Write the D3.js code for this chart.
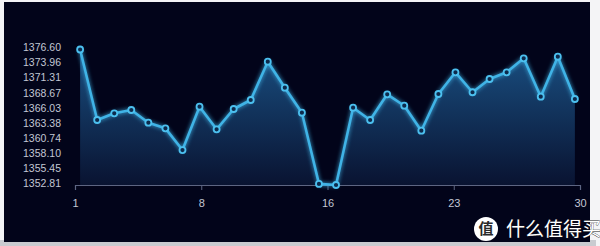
<!DOCTYPE html>
<html>
<head>
<meta charset="utf-8">
<script src="https://cdn.jsdelivr.net/npm/d3@7"></script>
<style>
  html, body { margin: 0; padding: 0; background: #f4f4f6; }
  svg { display: block; }
</style>
</head>
<body>
<svg id="chart" width="600" height="246"></svg>
<script>
// données
const days = d3.range(1, 31);
const values = [
  1376.60, 1364.22, 1365.40, 1365.98, 1363.75, 1362.76, 1358.95, 1366.56, 1362.59, 1366.15,
  1367.73, 1374.46, 1369.89, 1365.50, 1353.00, 1352.81, 1366.38, 1364.22, 1368.73, 1366.73,
  1362.34, 1368.79, 1372.60, 1369.09, 1371.42, 1372.60, 1375.05, 1368.31, 1375.34, 1367.91
];
const yTickLabels = ["1376.60", "1373.96", "1371.31", "1368.67", "1366.03", "1363.38", "1360.74", "1358.10", "1355.45", "1352.81"];
const xTickLabels = ["1", "8", "16", "23", "30"];

const svg = d3.select("#chart");

// fond du panneau
svg.append("rect").attr("x", 0).attr("y", 240).attr("width", 596).attr("height", 6).attr("fill", "#c9cbd0");
svg.append("rect").attr("x", 4).attr("y", 2).attr("width", 586).attr("height", 240).attr("fill", "#02041a");

const yMin = 1352.81, yMax = 1376.60;
const x = d3.scaleLinear().domain([0.7, 30.3]).range([75, 580]);
const y = d3.scaleLinear().domain([yMin, yMax]).range([185, 49.5]);

const defs = svg.append("defs");
const grad = defs.append("linearGradient").attr("id", "areaGrad")
  .attr("x1", 0).attr("x2", 0)
  .attr("gradientUnits", "userSpaceOnUse")
  .attr("y1", y(yMax)).attr("y2", y(yMin));
grad.append("stop").attr("offset", "0%").attr("stop-color", "#1b5488").attr("stop-opacity", 0.95);
grad.append("stop").attr("offset", "100%").attr("stop-color", "#0a1534").attr("stop-opacity", 0.9);

const glow = defs.append("filter").attr("id", "glow")
  .attr("x", "-10%").attr("y", "-10%").attr("width", "120%").attr("height", "120%");
glow.append("feGaussianBlur").attr("stdDeviation", 2).attr("result", "b");
const merge = glow.append("feMerge");
merge.append("feMergeNode").attr("in", "b");
merge.append("feMergeNode").attr("in", "SourceGraphic");

const data = days.map((d, i) => ({ day: d, v: values[i] }));

// zone
const area = d3.area()
  .x(d => x(d.day)).y0(y(yMin)).y1(d => y(d.v));
svg.append("path").datum(data).attr("d", area).attr("fill", "url(#areaGrad)");

// axe y (labels seulement)
const yTicks = d3.range(yTickLabels.length).map(i => yMax - i * (yMax - yMin) / (yTickLabels.length - 1));
svg.append("g")
  .attr("transform", "translate(66,-2)")
  .call(d3.axisLeft(y).tickValues(yTicks).tickSize(0).tickPadding(5).tickFormat((d, i) => yTickLabels[i]))
  .call(g => g.select(".domain").remove())
  .call(g => g.selectAll("text")
    .attr("fill", "#c3c7d4")
    .style("font-family", "Liberation Sans, Arial, sans-serif")
    .style("font-size", "10.5px"));

// axe x
const xTicks = d3.range(5).map(i => 0.7 + i * (30.3 - 0.7) / 4);
svg.append("g")
  .attr("transform", "translate(0,185)")
  .call(d3.axisBottom(x).tickValues(xTicks).tickSize(5).tickPadding(9).tickFormat((d, i) => xTickLabels[i]))
  .call(g => g.select(".domain").attr("stroke", "#5d6582").attr("stroke-width", 1.2))
  .call(g => g.selectAll(".tick line").attr("stroke", "#5d6582"))
  .call(g => g.selectAll("text")
    .attr("fill", "#c3c7d4")
    .style("font-family", "Liberation Sans, Arial, sans-serif")
    .style("font-size", "11px"));

// ligne
const line = d3.line().x(d => x(d.day)).y(d => y(d.v));
svg.append("path").datum(data)
  .attr("d", line)
  .attr("fill", "none")
  .attr("stroke", "#3fb3e6")
  .attr("stroke-width", 2.6)
  .attr("stroke-linejoin", "round")
  .attr("filter", "url(#glow)");

// marqueurs
svg.append("g").selectAll("circle")
  .data(data)
  .join("circle")
  .attr("cx", d => x(d.day))
  .attr("cy", d => y(d.v))
  .attr("r", 3)
  .attr("fill", "#0d2a4c")
  .attr("stroke", "#4cc0ef")
  .attr("stroke-width", 1.8);

// filigrane
const wm = svg.append("g").attr("transform", "translate(486,229)");
wm.append("circle").attr("r", 12).attr("fill", "#ffffff");
wm.append("text").attr("text-anchor", "middle").attr("dy", "0.36em")
  .attr("fill", "#2a2a2a")
  .style("font-family", "Noto Sans CJK SC")
  .style("font-size", "15px").style("font-weight", "bold")
  .text("值");
wm.append("text").attr("x", 20).attr("dy", "0.36em")
  .attr("fill", "#ffffff")
  .attr("stroke", "#222").attr("stroke-width", 0.6).attr("paint-order", "stroke")
  .style("font-family", "Noto Sans CJK SC")
  .style("font-size", "19px")
  .text("什么值得买");
</script>
</body>
</html>
